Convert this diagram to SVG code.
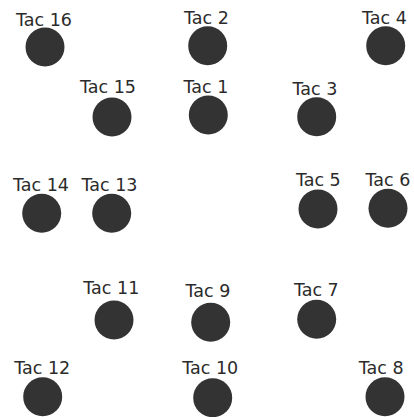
<svg xmlns="http://www.w3.org/2000/svg" width="414" height="417" viewBox="0 0 414 417">
<style>
.n circle{fill:#333333;}
.n text{font-family:"DejaVu Sans",Verdana,sans-serif;font-size:17.5px;fill:#2b2b2b;text-anchor:middle;}
</style>
<rect width="414" height="417" fill="#ffffff"/>
<g id="connectors"></g>
<g id="tac16" class="n"><circle cx="45" cy="47" r="19.5"/><text x="44" y="26">Tac 16</text></g>
<g id="tac2" class="n"><circle cx="207.7" cy="45.7" r="19.5"/><text x="206.5" y="24">Tac 2</text></g>
<g id="tac4" class="n"><circle cx="385.7" cy="45.7" r="19.5"/><text x="384.5" y="24">Tac 4</text></g>
<g id="tac15" class="n"><circle cx="112" cy="117" r="19.5"/><text x="108" y="93">Tac 15</text></g>
<g id="tac1" class="n"><circle cx="208.3" cy="115" r="19.5"/><text x="206" y="93">Tac 1</text></g>
<g id="tac3" class="n"><circle cx="316.7" cy="116.7" r="19.5"/><text x="315" y="95">Tac 3</text></g>
<g id="tac14" class="n"><circle cx="41.7" cy="213.3" r="19.5"/><text x="41" y="190.7">Tac 14</text></g>
<g id="tac13" class="n"><circle cx="111.7" cy="213.3" r="19.5"/><text x="109.5" y="190.7">Tac 13</text></g>
<g id="tac5" class="n"><circle cx="318" cy="209" r="19.5"/><text x="318.3" y="186">Tac 5</text></g>
<g id="tac6" class="n"><circle cx="388" cy="208.3" r="19.5"/><text x="388" y="186">Tac 6</text></g>
<g id="tac11" class="n"><circle cx="114" cy="320" r="19.5"/><text x="111.3" y="294">Tac 11</text></g>
<g id="tac9" class="n"><circle cx="210.7" cy="322.3" r="19.5"/><text x="208" y="296.7">Tac 9</text></g>
<g id="tac7" class="n"><circle cx="316.7" cy="319.3" r="19.5"/><text x="316.3" y="296">Tac 7</text></g>
<g id="tac12" class="n"><circle cx="42.7" cy="396.7" r="19.5"/><text x="42.2" y="374">Tac 12</text></g>
<g id="tac10" class="n"><circle cx="212.7" cy="397.7" r="19.5"/><text x="210.2" y="374">Tac 10</text></g>
<g id="tac8" class="n"><circle cx="385" cy="396.7" r="19.5"/><text x="381.2" y="374">Tac 8</text></g>
</svg>
